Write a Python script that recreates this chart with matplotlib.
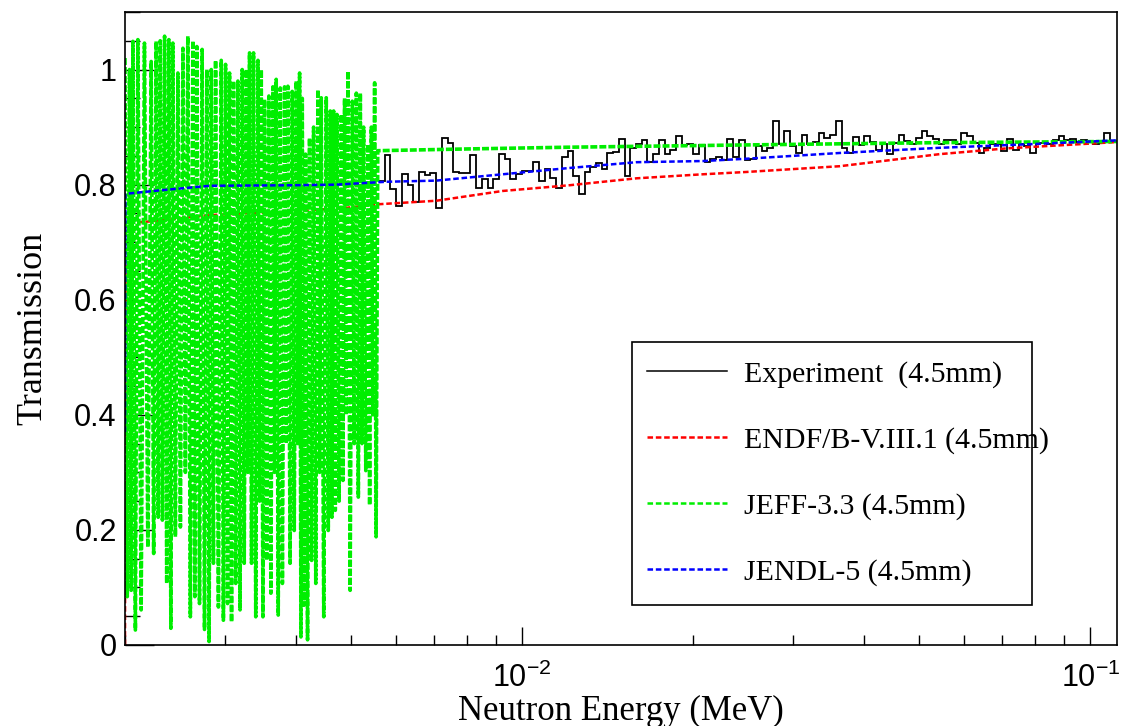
import numpy as np
import matplotlib
matplotlib.use("Agg")
import matplotlib.pyplot as plt
from matplotlib.patches import Rectangle
from matplotlib.ticker import LogLocator, NullFormatter, FuncFormatter, MultipleLocator

plt.rcParams['font.family'] = ['Liberation Serif', 'DejaVu Serif']
plt.rcParams['mathtext.fontset'] = 'custom'
plt.rcParams['mathtext.rm'] = 'Liberation Sans'
plt.rcParams['lines.scale_dashes'] = False

# ---------------- data (energies in keV) ----------------
# JEFF-3.3 resolved resonance region: peak energies, peak and dip transmission
res_e = [2.0, 2.037, 2.065, 2.107, 2.164, 2.224, 2.269, 2.307, 2.348, 2.389,
         2.428, 2.478, 2.529, 2.580, 2.633, 2.676, 2.734, 2.787, 2.837, 2.887,
         2.954, 3.006, 3.055, 3.105, 3.160, 3.216, 3.269, 3.313, 3.367, 3.428,
         3.474, 3.521, 3.583, 3.642, 3.691, 3.752, 3.818, 3.870, 3.939, 4.003,
         4.058, 4.102, 4.157, 4.225, 4.295, 4.371, 4.430, 4.521, 4.595, 4.658,
         4.721, 4.805, 4.870, 4.937, 5.024, 5.107, 5.190, 5.260, 5.353, 5.427,
         5.500]
res_top = [1.020, 1.00, 1.049, 1.052, 1.046, 1.014, 1.049, 1.05, 1.058, 1.052,
           1.046, 0.994, 1.037, 1.058, 1.05, 1.040, 1.035, 1.0, 1.00, 1.016,
           1.016, 1.009, 0.994, 0.98, 0.98, 1.0, 1.0, 1.029, 1.029, 1.016,
           1.0, 0.948, 0.954, 0.97, 0.983, 0.968, 0.97, 0.971, 0.962, 0.98,
           0.994, 0.95, 0.853, 0.881, 0.90, 0.965, 0.951, 0.951, 0.928, 0.928,
           0.922, 0.922, 0.95, 0.997, 0.945, 0.959, 0.959, 0.90, 0.870, 0.9,
           0.977]
res_bot = [0.084, 0.095, 0.026, 0.061, 0.170, 0.159, 0.222, 0.217, 0.107, 0.029,
           0.188, 0.205, 0.30, 0.049, 0.084, 0.072, 0.027, 0.006, 0.142, 0.066,
           0.043, 0.072, 0.040, 0.107, 0.061, 0.142, 0.30, 0.142, 0.049, 0.25,
           0.049, 0.147, 0.090, 0.30, 0.052, 0.107, 0.35, 0.142, 0.199, 0.35,
           0.014, 0.069, 0.009, 0.147, 0.107, 0.30, 0.049, 0.199, 0.222, 0.234,
           0.25, 0.286, 0.40, 0.095, 0.35, 0.257, 0.35, 0.303, 0.243, 0.40,
           0.188]
# JEFF-3.3 above the resonances
jeff_e = [5.57, 8.0, 12.0, 24.8, 54.3, 111.4]
jeff_t = [0.859, 0.862, 0.865, 0.869, 0.873, 0.875]

jendl_e = [2.0, 2.003, 2.30, 2.82, 4.00, 4.71, 5.77, 7.06, 9.24, 12.13, 15.9,
           20.8, 24.8, 36.2, 54.3, 81.5, 111.4]
jendl_t = [0.37, 0.784, 0.79, 0.798, 0.799, 0.80, 0.805, 0.807, 0.818, 0.829,
           0.839, 0.841, 0.845, 0.855, 0.864, 0.871, 0.877]

endf_e = [2.0, 2.005, 2.21, 2.82, 3.38, 3.80, 4.18, 4.93, 5.6, 7.06, 9.24,
          12.13, 15.9, 20.8, 24.8, 36.2, 54.3, 71.2, 111.4]
endf_t = [0.0, 0.733, 0.736, 0.747, 0.751, 0.751, 0.755, 0.76, 0.766, 0.772,
          0.789, 0.799, 0.811, 0.818, 0.822, 0.832, 0.853, 0.863, 0.874]

# experiment histogram, 100 log bins per decade from 5.6 keV
exp_lo, exp_hi = 5.6, 110.8
exp_t = [0.806, 0.851, 0.792, 0.763, 0.818, 0.800, 0.769, 0.822, 0.816, 0.820,
         0.759, 0.881, 0.873, 0.822, 0.820, 0.820, 0.851, 0.794, 0.809, 0.794,
         0.809, 0.854, 0.844, 0.809, 0.818, 0.824, 0.824, 0.839, 0.807, 0.828,
         0.811, 0.795, 0.848, 0.859, 0.815, 0.783, 0.822, 0.830, 0.838, 0.827,
         0.855, 0.857, 0.879, 0.815, 0.864, 0.870, 0.877, 0.840, 0.853, 0.877,
         0.853, 0.861, 0.884, 0.869, 0.870, 0.853, 0.869, 0.840, 0.845, 0.848,
         0.843, 0.879, 0.848, 0.877,
         0.842, 0.844, 0.867, 0.859, 0.864, 0.910, 0.870, 0.894, 0.867, 0.855,
         0.887, 0.871, 0.874, 0.890, 0.881, 0.887, 0.910, 0.864, 0.855, 0.882,
         0.869, 0.885, 0.874, 0.861, 0.870, 0.853, 0.872, 0.887, 0.876, 0.870,
         0.881, 0.894, 0.884, 0.879, 0.870, 0.877, 0.877, 0.870, 0.890, 0.885,
         0.872, 0.855, 0.864, 0.871, 0.870, 0.859, 0.879, 0.861, 0.870, 0.867,
         0.855, 0.872, 0.872, 0.871, 0.877, 0.885, 0.877, 0.880, 0.874, 0.877,
         0.874, 0.870, 0.872, 0.890, 0.876]

xmin, xmax = 0.002, 0.1114

# ---------------- build curves ----------------
re = np.array(res_e)
dips = np.append(np.sqrt(re[:-1] * re[1:]), re[-1] * 1.006)
gx = np.empty(2 * len(re))
gy = np.empty(2 * len(re))
gx[0::2], gx[1::2] = re, dips
gy[0::2], gy[1::2] = res_top, res_bot
gx = np.concatenate([gx, jeff_e]) / 1000.0
gy = np.concatenate([gy, jeff_t])

edges = np.geomspace(exp_lo, exp_hi, len(exp_t) + 1) / 1000.0

fig = plt.figure(figsize=(11.22, 7.26), dpi=100)
ax = fig.add_axes([125 / 1122, 1 - 645 / 726, 992 / 1122, 633 / 726])

dash = (4, 2)
ax.stairs(exp_t, edges, baseline=None, color='black', lw=1.3, zorder=2)
ax.plot(np.array(endf_e) / 1000, endf_t, color='#ff0000', lw=1.8, dashes=dash, zorder=3)
ax.plot(gx, gy, color='#00ee00', lw=2.6, dashes=(5, 1.5), zorder=4)
ax.plot(np.array(jendl_e) / 1000, jendl_t, color='#0000ff', lw=1.8, dashes=dash, zorder=5)

ax.set_xscale('log')
ax.set_xlim(xmin, xmax)
ax.set_ylim(0, 1.1)

ax.xaxis.set_major_locator(LogLocator(base=10))
ax.xaxis.set_minor_locator(LogLocator(base=10, subs=np.arange(2, 10)))
ax.xaxis.set_minor_formatter(NullFormatter())
ax.yaxis.set_major_locator(MultipleLocator(0.2))
ax.yaxis.set_minor_locator(MultipleLocator(0.05))
ax.yaxis.set_major_formatter(FuncFormatter(lambda v, p: '%g' % round(v, 3)))

ax.tick_params(axis='both', which='both', direction='in', top=False, right=False,
               colors='black', width=1.0)
ax.tick_params(axis='x', which='major', length=13, pad=13, labelsize=22)
ax.tick_params(axis='x', which='minor', length=7)
ax.tick_params(axis='y', which='major', length=21, pad=6, labelsize=22)
ax.tick_params(axis='y', which='minor', length=11)
for lab in ax.get_xticklabels() + ax.get_yticklabels():
    lab.set_family(['Liberation Sans', 'DejaVu Sans'])
for sp in ax.spines.values():
    sp.set_linewidth(1.2)
    sp.set_zorder(10)

ax.set_xlabel('Neutron Energy (MeV)', fontsize=25)
ax.set_ylabel('Transmission', fontsize=26)
ax.xaxis.set_label_coords(0.5, -0.079)
ax.yaxis.set_label_coords(-0.076, 0.5)

# legend (ROOT style box, text may run over the frame)
leg = ax.legend([plt.Line2D([], [], color='black', lw=1.1),
                 plt.Line2D([], [], color='#ff0000', lw=1.8, dashes=dash),
                 plt.Line2D([], [], color='#00ee00', lw=1.8, dashes=dash),
                 plt.Line2D([], [], color='#0000ff', lw=1.8, dashes=dash)],
                ['Experiment  (4.5mm)', 'ENDF/B-V.III.1 (4.5mm)',
                 'JEFF-3.3 (4.5mm)', 'JENDL-5 (4.5mm)'],
                loc='upper left', bbox_to_anchor=(0.526, 0.449), frameon=False,
                fontsize=21.5, handlelength=2.7, handletextpad=0.55,
                labelspacing=1.3, borderpad=0, borderaxespad=0)
leg.set_zorder(12)
ax.add_patch(Rectangle((0.511, 0.063), 0.403, 0.416, transform=ax.transAxes,
                       facecolor='white', edgecolor='black', lw=1.2, zorder=11))

fig.savefig('out.png', dpi=100, facecolor='white')
